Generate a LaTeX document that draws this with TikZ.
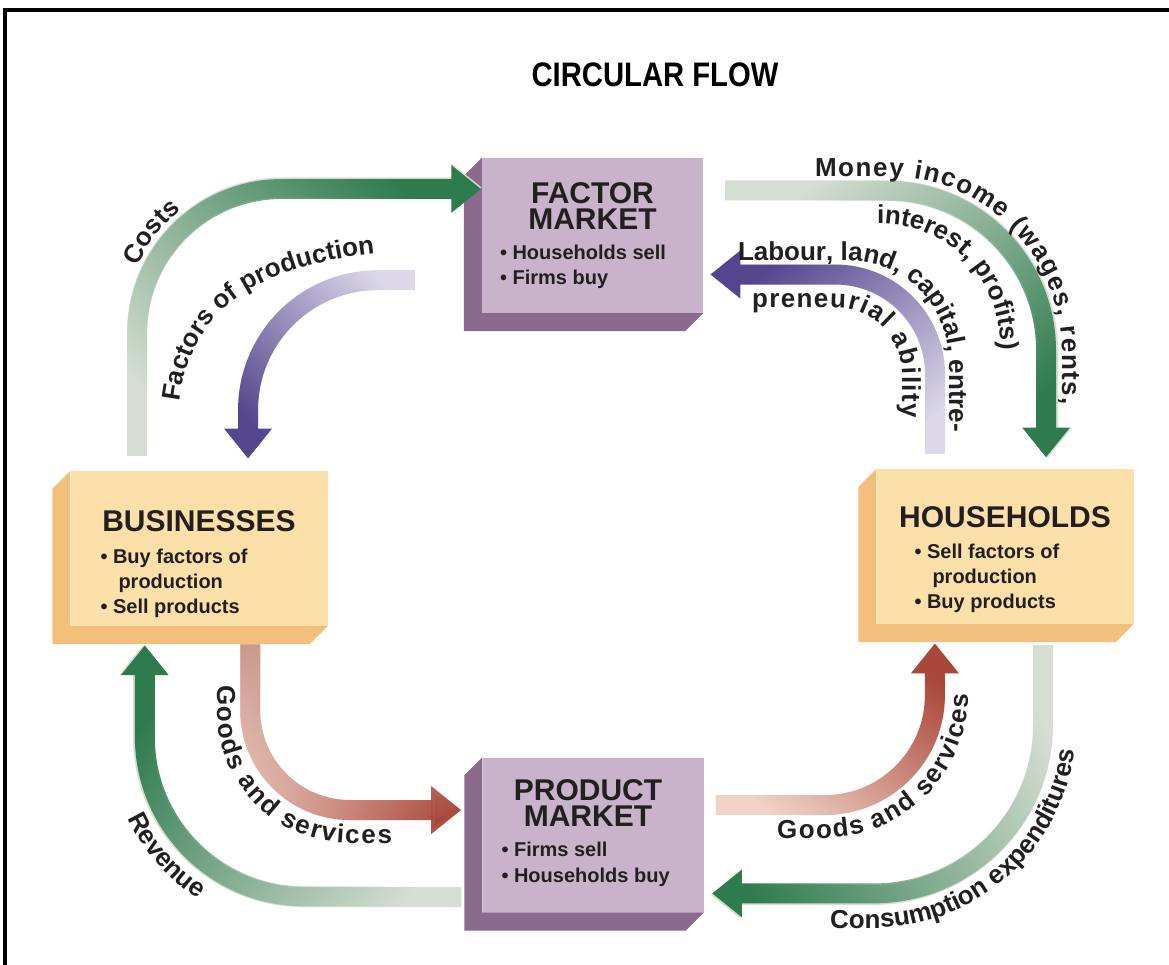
\documentclass[tikz,border=0pt]{standalone}
\usepackage{fontspec}
\setmainfont{Liberation Sans}
\newfontfamily\titlefamily[FakeStretch=0.86]{Liberation Sans}
\usetikzlibrary{arrows.meta,positioning,fadings,decorations.text}

\definecolor{pfront}{HTML}{C8B3CB}
\definecolor{pside}{HTML}{8C6A8E}
\definecolor{ofront}{HTML}{FCE0AA}
\definecolor{oside}{HTML}{F3C07C}
\definecolor{gdark}{HTML}{2E7B4E}
\definecolor{gpale}{HTML}{D6DED3}
\definecolor{vdark}{HTML}{54468E}
\definecolor{vpale}{HTML}{DCD8EA}
\definecolor{rdark}{HTML}{A9473A}
\definecolor{rmid}{HTML}{C9958A}
\definecolor{rpale}{HTML}{F0D2C6}
\definecolor{ink}{HTML}{231F20}

\tikzfading[name=fade head, left color=transparent!100, right color=transparent!0]

\newcommand{\lblfont}{\fontsize{26}{31}\selectfont\bfseries}
% side and bottom face of a box, pushed to the lower left
\newcommand{\sideface}[2]{%
  \fill[#2] (#1.north west) -- ++(-18,18) |- ([xshift=-18pt,yshift=-18pt]#1.south east)
    -- (#1.south east) -- (#1.south west) -- cycle;}

\tikzset{
  mkt/.style={fill=pfront, minimum width=221pt, minimum height=155pt, inner sep=0pt},
  sector/.style={fill=ofront, minimum width=257pt, minimum height=155pt, inner sep=0pt},
  boxhead/.style={inner sep=0pt, align=center, text=ink, font=\fontsize{30}{26}\selectfont\bfseries},
  bullets/.style={inner sep=0pt, align=left, text=ink, font=\fontsize{20}{25}\selectfont\bfseries},
  flow/.style n args={3}{line width=20pt, draw=#1, -{Triangle[width=46pt,length=30pt]},
    postaction={draw=#2, line width=20pt, -{Triangle[width=46pt,length=30pt]},
      path fading=fade head, fading angle=#3}},
  flowlabel/.style={decorate, decoration={text along path, text color=ink, text={|\lblfont|#1}}},
  spread/.style={decoration={text align=fit to path}},
}

\begin{document}
\begin{tikzpicture}[x=1pt, y=-1pt]
\useasboundingbox (0,0) rectangle (1169,965);

% Marco
\draw[line width=4pt] (1169,10) -- (5,10) -- (5,965);

% Titulo
\node[font=\titlefamily\fontsize{34}{40}\selectfont\bfseries] (title) at (655,75) {CIRCULAR FLOW};

% Cajas
\node[mkt] (fm) at (592.5,235.5) {};
\node[sector] (bus) at (199,548.5) {};
\node[sector] (hh) at (1005,546.5) {};
\node[mkt] (pm) at (593,835) {};
\sideface{fm}{pside}
\sideface{pm}{pside}
\sideface{bus}{oside}
\sideface{hh}{oside}

% Textos de las cajas
\node[boxhead, below=25pt of fm.north] (fmH) {FACTOR\\MARKET};
\node[bullets, anchor=north west] (fmB) at ([xshift=18pt,yshift=-87pt]fm.north west) {• Households sell\\• Firms buy};
\node[boxhead, below=40pt of bus.north] (busH) {BUSINESSES};
\node[bullets, anchor=north west] (busB) at ([xshift=30pt,yshift=-78pt]bus.north west) {• Buy factors of\\\hspace*{18pt}production\\• Sell products};
\node[boxhead, below=38pt of hh.north] (hhH) {HOUSEHOLDS};
\node[bullets, anchor=north west] (hhB) at ([xshift=38pt,yshift=-75pt]hh.north west) {• Sell factors of\\\hspace*{18pt}production\\• Buy products};
\node[boxhead, below=22pt of pm.north, xshift=-5pt] (pmH) {PRODUCT\\MARKET};
\node[bullets, anchor=north west] (pmB) at ([xshift=19pt,yshift=-85pt]pm.north west) {• Firms sell\\• Households buy};

% Flujos de dinero (verde)
\draw[flow={gpale}{gdark}{40}, rounded corners=145pt] ([xshift=-62pt,yshift=15pt]bus.north) |- ([yshift=48pt]fm.west);
\draw[flow={gpale}{gdark}{-45}, rounded corners=160pt] ([xshift=22pt,yshift=45pt]fm.east) -| ([xshift=43pt,yshift=11pt]hh.north);
\draw[flow={gpale}{gdark}{150}, rounded corners=160pt] ([xshift=-21pt,yshift=-62pt]pm.west) -| ([xshift=-56pt,yshift=-19pt]bus.south);
\draw[flow={gpale}{gdark}{200}, rounded corners=170pt] ([xshift=38pt,yshift=-21pt]hh.south) |- ([xshift=7pt,yshift=-60pt]pm.east);

% Flujos de factores (violeta)
\draw[flow={vpale}{vdark}{225}, rounded corners=130pt] ([xshift=-67pt,yshift=33pt]fm.south west) -| ([xshift=49pt,yshift=12pt]bus.north);
\draw[flow={vpale}{vdark}{135}, rounded corners=100pt] ([xshift=-70pt,yshift=15pt]hh.north) |- ([xshift=7pt,yshift=-39pt]fm.east);

% Flujos de bienes (rojo)
\draw[flow={rpale}{rdark}{-10}, rounded corners=100pt,
  postaction={draw=rmid, line width=20pt, path fading=fade head, fading angle=90}]
  ([xshift=51pt,yshift=-18pt]bus.south) |- ([xshift=-21pt,yshift=25pt]pm.west);
\draw[flow={rpale}{rdark}{45}, rounded corners=110pt] ([xshift=12pt,yshift=30pt]pm.east) -| ([xshift=-70pt,yshift=-19pt]hh.south);

% Rotulos curvos
\path[shift={(282,332.5)}, flowlabel={Costs}, decoration={text align=center}] (200:159) arc[start angle=200, end angle=235, radius=159];
\path[flowlabel={Factors of production}, decoration={text align=center}] (178,445) .. controls (172,310) and (255,258) .. (418,250);
\path[flowlabel={Labour, land, capital, entre-}, rounded corners=100pt] (738,260.5) -| (949,480);
\path[flowlabel={preneurial ability}, spread, rounded corners=67pt] (752,307.5) -| (902,418);
\path[flowlabel={Money income (wages, rents,}, spread, rounded corners=174pt] (815,176.5) -| (1062,405);
\path[flowlabel={interest, profits)}, rounded corners=120pt] (877,223.5) -| (1000,470);
\path[flowlabel={Goods and services}, spread, rounded corners=133pt] (217,685) |- (392,843);
\path[shift={(303,737)}, flowlabel={Revenue}, decoration={text align=center}] (160:193) arc[start angle=160, end angle=118, radius=193];
\path[flowlabel={Goods and services}, spread, rounded corners=143pt] (777,838) -| (968,694);
\path[flowlabel={Consumption expenditures}, rounded corners=203pt] (830,928) -| (1076,600);
\end{tikzpicture}
\end{document}
